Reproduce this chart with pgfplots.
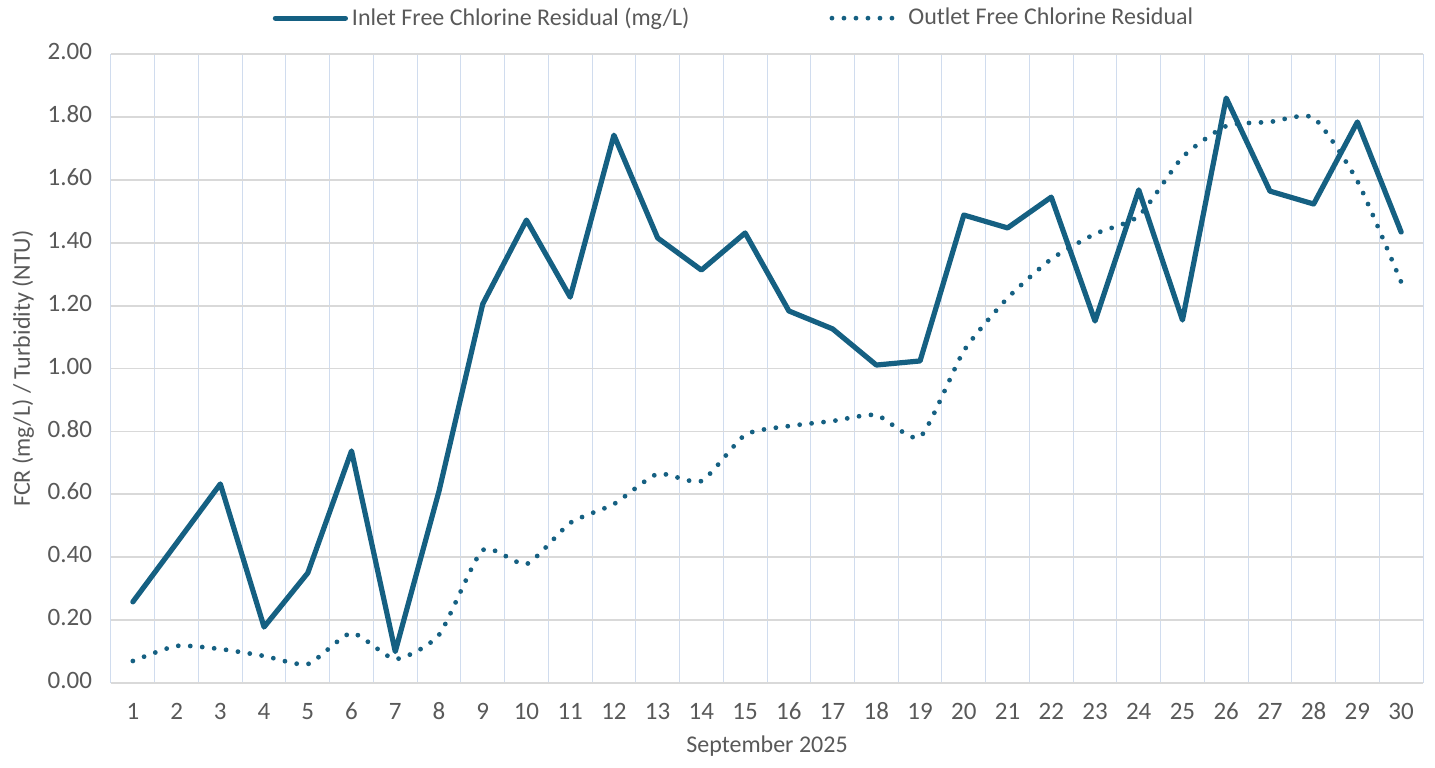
\documentclass[border=0pt]{standalone}
\usepackage{pgfplots}
\pgfplotsset{compat=1.18}
\usepackage{fontspec}
\setmainfont{Carlito}
\definecolor{line1}{RGB}{21,96,130}
\definecolor{txt}{RGB}{89,89,89}
\definecolor{hgrid}{RGB}{217,217,217}
\definecolor{vgrid}{RGB}{208,220,238}
\begin{document}
\begin{tikzpicture}[x=1pt,y=1pt]
\path[use as bounding box] (-55.5pt,-42pt) rectangle (662pt,341.5pt);
\begin{axis}[
  at={(0,0)}, anchor=south west,
  scale only axis, width=656pt, height=314.5pt,
  xmin=0.5, xmax=30.5, ymin=0, ymax=2,
  xtick={1,...,30},
  minor xtick={0.5,1.5,2.5,3.5,4.5,5.5,6.5,7.5,8.5,9.5,10.5,11.5,12.5,13.5,14.5,15.5,16.5,17.5,18.5,19.5,20.5,21.5,22.5,23.5,24.5,25.5,26.5,27.5,28.5,29.5,30.5},
  ytick={0,0.2,0.4,0.6,0.8,1.0,1.2,1.4,1.6,1.8,2.0},
  major tick length=0pt, minor tick length=0pt,
  axis line style={draw=none},
  ymajorgrids, xminorgrids,
  major y grid style={hgrid, line width=0.9pt},
  minor x grid style={vgrid, line width=0.5pt},
  font=\fontsize{12}{14}\selectfont,
  tick label style={txt, font=\fontsize{12.5}{14}\selectfont},
  typeset ticklabels with strut,
  /pgf/number format/assume math mode=true,
  yticklabel style={/pgf/number format/.cd, fixed, fixed zerofill, precision=2, /tikz/.cd, xshift=-6pt},
  xticklabel style={yshift=-5pt},
  xlabel={September 2025}, xlabel style={txt, yshift=3pt},
  ylabel={FCR (mg/L) / Turbidity (NTU)}, ylabel style={txt, yshift=0pt},
  legend columns=2,
  legend style={at={(0.4756,1.057)}, anchor=center, draw=none, fill=none, text=txt,
    /tikz/every even column/.append style={column sep=68pt}},
  legend image code/.code={\draw[#1] (0pt,0pt) -- (35pt,0pt);},
  clip=false,
]
\addplot[line1, line width=2.6pt, line join=round, line cap=round] coordinates {
(1,0.258) (2,0.445) (3,0.633) (4,0.178) (5,0.350) (6,0.738) (7,0.100) (8,0.610)
(9,1.205) (10,1.472) (11,1.227) (12,1.742) (13,1.415) (14,1.313) (15,1.431)
(16,1.183) (17,1.126) (18,1.011) (19,1.024) (20,1.488) (21,1.447) (22,1.545)
(23,1.151) (24,1.568) (25,1.154) (26,1.860) (27,1.564) (28,1.523) (29,1.784) (30,1.434)
};
\addlegendentry{Inlet Free Chlorine Residual (mg/L)}
\addplot[line1, line width=2.4pt, line cap=round, dash pattern=on 0pt off 6pt, smooth, tension=0.35] coordinates {
(1,0.070) (2,0.118) (3,0.108) (4,0.086) (5,0.060) (6,0.159) (7,0.076) (8,0.153)
(9,0.423) (10,0.378) (11,0.509) (12,0.569) (13,0.665) (14,0.642) (15,0.789)
(16,0.817) (17,0.833) (18,0.852) (19,0.782) (20,1.056) (21,1.224) (22,1.348)
(23,1.428) (24,1.485) (25,1.672) (26,1.771) (27,1.784) (28,1.797) (29,1.596) (30,1.275)
};
\addlegendentry{Outlet Free Chlorine Residual}
\end{axis}
\end{tikzpicture}
\end{document}
